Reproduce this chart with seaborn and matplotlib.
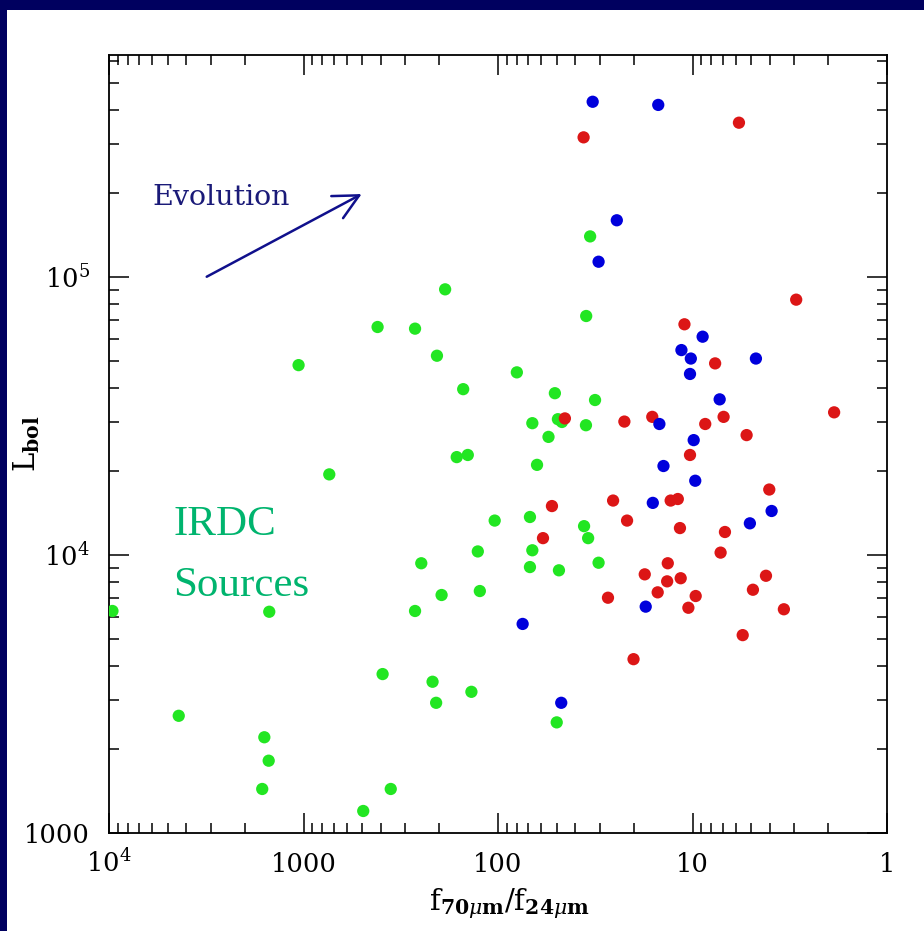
import numpy as np
import pandas as pd
import matplotlib
matplotlib.use("Agg")
import matplotlib.pyplot as plt
import seaborn as sns
from matplotlib.ticker import LogLocator, NullFormatter, FixedLocator, FixedFormatter
from matplotlib.patches import Rectangle

# ---------------- data ----------------
green_x = [9600, 4380, 1590, 1510, 1630, 1500, 1060, 737, 416, 392, 356, 493, 267, 267,
           248, 206, 217, 208, 195, 187, 151, 163, 143, 137, 127, 124, 104, 80, 68.5,
           66.6, 66.6, 68.5, 63, 55, 51, 49.2, 46.9, 48.6, 49.9, 36.1, 35.3, 34.4, 35.2,
           33.6, 31.7, 30.4]
green_y = [6290, 2640, 2210, 1820, 1440, 6250, 48200, 19500, 66100, 3730, 1440, 1200,
           65200, 6290, 9340, 52100, 3500, 2940, 7180, 90300, 39500, 22500, 22900, 3220,
           10300, 7420, 13300, 45400, 13700, 29800, 10400, 9050, 21100, 26600, 38200,
           30800, 30100, 8810, 2500, 12700, 29300, 11500, 72400, 140000, 36100, 9380]

red_x = [5.77, 36.3, 2.93, 11.0, 7.65, 1.87, 45.3, 22.4, 16.1, 8.6, 6.92, 5.27, 10.3,
         52.8, 25.6, 12.95, 11.9, 4.03, 21.7, 58.7, 11.6, 6.81, 7.17, 13.4, 17.6, 13.5,
         11.5, 4.19, 15.1, 9.63, 4.89, 27.2, 10.5, 3.39, 5.52, 20.1]
red_y = [359000, 318000, 82900, 67600, 48900, 32600, 31000, 30200, 31400, 29600, 31400,
         27000, 22900, 15000, 15700, 15700, 15900, 17200, 13300, 11500, 12500, 12100,
         10200, 9340, 8520, 8040, 8250, 8420, 7340, 7120, 7500, 7020, 6460, 6380, 5150,
         4220]

blue_x = [32.6, 15.0, 24.5, 30.4, 11.4, 10.2, 10.3, 8.87, 4.72, 7.25, 14.8, 9.86, 14.1,
          9.68, 16.0, 3.92, 5.07, 17.4, 74.7, 47.3]
blue_y = [427000, 416000, 160000, 113500, 54600, 50900, 44800, 61000, 50900, 36300,
          29600, 25900, 20900, 18500, 15400, 14400, 13000, 6520, 5650, 2940]

x_ticks = [1e4, 1e3, 1e2, 1e1, 1e0]
x_tick_labels = [r"$10^4$", "1000", "100", "10", "1"]
y_ticks = [1e3, 1e4, 1e5]
y_tick_labels = ["1000", r"$10^4$", r"$10^5$"]

colors = {"green": "#22e622", "red": "#dc1616", "blue": "#0000dc"}

# ---------------- figure ----------------
sns.set_theme(style="ticks")
plt.rcParams["font.family"] = ["DejaVu Serif"]
plt.rcParams["mathtext.fontset"] = "dejavuserif"

W, H = 924, 931
fig = plt.figure(figsize=(W / 100, H / 100), dpi=100, facecolor="#00005f")
fig.patches.append(Rectangle((7.5 / W, 0), 1, 1 - 10 / H, transform=fig.transFigure,
                             facecolor="white", edgecolor="none", zorder=-10))
ax = fig.add_axes([109 / W, 98 / H, 778 / W, 778 / H])
ax.set_facecolor("white")

df = pd.concat([
    pd.DataFrame({"ratio": green_x, "lbol": green_y, "group": "green"}),
    pd.DataFrame({"ratio": red_x, "lbol": red_y, "group": "red"}),
    pd.DataFrame({"ratio": blue_x, "lbol": blue_y, "group": "blue"}),
], ignore_index=True)

sns.scatterplot(data=df, x="ratio", y="lbol", hue="group", palette=colors, s=78,
                linewidth=0, legend=False, ax=ax, zorder=3)

ax.set_xscale("log")
ax.set_yscale("log")
ax.set_xlim(1e4, 1)
ax.set_ylim(1e3, 6.29e5)

ax.xaxis.set_major_locator(FixedLocator(x_ticks))
ax.xaxis.set_major_formatter(FixedFormatter(x_tick_labels))
ax.yaxis.set_major_locator(FixedLocator(y_ticks))
ax.yaxis.set_major_formatter(FixedFormatter(y_tick_labels))
for axis in (ax.xaxis, ax.yaxis):
    axis.set_minor_locator(LogLocator(base=10, subs=np.arange(2, 10), numticks=20))
    axis.set_minor_formatter(NullFormatter())

ax.tick_params(which="major", direction="in", length=14.4, width=1.1, top=True,
               right=True, labelsize=18.5, color="black", labelcolor="black")
ax.tick_params(which="minor", direction="in", length=7.2, width=1.1, top=True,
               right=True, color="black")
ax.tick_params(axis="x", which="major", pad=28)
ax.tick_params(axis="y", which="major", pad=14)
for lbl in ax.get_xticklabels():
    lbl.set_verticalalignment("baseline")

for sp in ax.spines.values():
    sp.set_linewidth(1.3)
    sp.set_color("black")

ax.set_xlabel(r"$\mathrm{f}_{\mathbf{70}\mu\mathbf{m}}/\mathrm{f}_{\mathbf{24}\mu\mathbf{m}}$",
              fontsize=21, color="black")
ax.xaxis.set_label_coords(0.515, -0.068)
ax.set_ylabel(r"$\mathrm{L}_{\mathbf{bol}}$", fontsize=21, color="black")
ax.yaxis.set_label_coords(-0.086, 0.5)

# annotations
ax.text(0.0562, 0.8078, "Evolution", transform=ax.transAxes, fontsize=20.5,
        color="#1a1a78", ha="left", va="baseline", family="DejaVu Serif")
ax.annotate("", xy=(0.3248, 0.8213), xytext=(0.1256, 0.715),
            xycoords="axes fraction", textcoords="axes fraction",
            arrowprops=dict(arrowstyle="->,head_length=0.6,head_width=0.3",
                            color="#10108c", lw=1.8,
                            mutation_scale=30, shrinkA=0, shrinkB=0))
ax.text(0.0826, 0.383, "IRDC", transform=ax.transAxes, fontsize=31,
        color="#00b46e", ha="left", va="baseline", family="Liberation Serif")
ax.text(0.0826, 0.3046, "Sources", transform=ax.transAxes, fontsize=31,
        color="#00b46e", ha="left", va="baseline", family="Liberation Serif")

fig.savefig("out.png", dpi=100)
